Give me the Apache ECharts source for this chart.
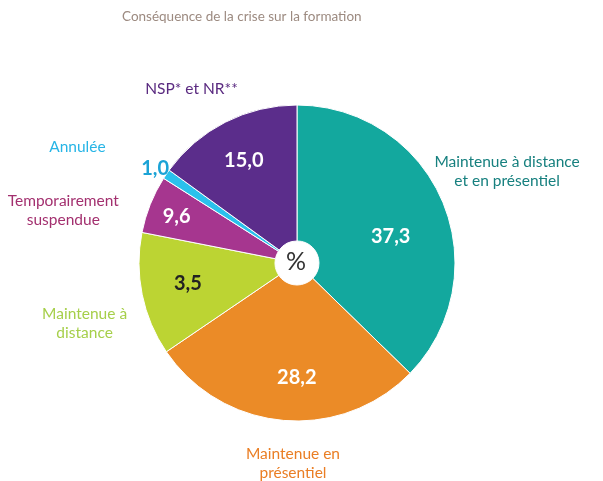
<!DOCTYPE html>
<html>
<head>
<meta charset="utf-8">
<script src="https://cdn.jsdelivr.net/npm/echarts@6/dist/echarts.min.js"></script>
<style>
html,body{margin:0;padding:0;background:#fff;}
#chart{width:603px;height:481px;}
</style>
</head>
<body>
<div id="chart"></div>
<script>
// Category names (clockwise from top)
const categories = [
  'Maintenue à distance\net en présentiel',
  'Maintenue en\nprésentiel',
  'Maintenue à\ndistance',
  'Temporairement\nsuspendue',
  'Annulée',
  'NSP* et NR**'
];
// Values printed on the slices (%)
const printedValues = ['37,3', '28,2', '3,5', '9,6', '1,0', '15,0'];
// Angular share of each slice as drawn in the picture (%)
const sliceShares = [37.3, 28.2, 12.6, 5.9, 1.0, 15.0];

const sliceColors = ['#13a89e', '#eb8b27', '#bcd433', '#a6368f', '#2ac1ec', '#5b2d8b'];
const nameColors  = ['#17807f', '#ea7e24', '#a6cf4a', '#a3306f', '#27b5e6', '#5a2a80'];
const valueColors = ['#ffffff', '#ffffff', '#222222', '#ffffff', '#1ba3d6', '#ffffff'];

const valueShift = [
  {dx: 8, dy: 10}, {dx: 8, dy: 22}, {dx: -18, dy: 2},
  {dx: -34, dy: -12}, {dx: -65, dy: -42}, {dx: -11, dy: -20}
];
const nameShift = [
  {dx: 0, dy: -3}, {dx: 16, dy: -27}, {dx: 11, dy: 15},
  {dx: -22, dy: 32}, {dx: -31, dy: 12}, {dx: -2, dy: 29}
];

const FONT = 'Lato, "Open Sans", sans-serif';

const valueData = categories.map((c, i) => ({
  name: c,
  value: sliceShares[i],
  itemStyle: {color: sliceColors[i]},
  label: {color: valueColors[i], formatter: printedValues[i]}
}));
const nameData = categories.map((c, i) => ({
  name: c,
  value: sliceShares[i],
  label: {color: nameColors[i]}
}));

const chart = echarts.init(document.getElementById('chart'), null, {renderer: 'canvas'});
chart.setOption({
  backgroundColor: '#ffffff',
  animation: false,
  title: {
    text: 'Conséquence de la crise sur la formation',
    left: 122, top: 10, padding: 0,
    textStyle: {fontFamily: FONT, fontSize: 13.5, fontWeight: 'normal', color: '#9c8a80'}
  },
  series: [
    {
      type: 'pie',
      center: [297, 263],
      radius: [160, 290],
      startAngle: 90,
      clockwise: true,
      silent: true,
      avoidLabelOverlap: false,
      itemStyle: {color: 'rgba(0,0,0,0)', borderWidth: 0},
      emphasis: {disabled: true},
      labelLine: {show: false},
      label: {
        show: true, position: 'inside',
        fontFamily: FONT, fontSize: 15.5, lineHeight: 19,
        formatter: '{b}', align: 'center'
      },
      labelLayout: p => nameShift[p.dataIndex],
      data: nameData,
      z: 1
    },
    {
      type: 'pie',
      center: [297, 263],
      radius: [22, 158],
      startAngle: 90,
      clockwise: true,
      silent: true,
      avoidLabelOverlap: false,
      itemStyle: {borderColor: '#ffffff', borderWidth: 1},
      emphasis: {disabled: true},
      labelLine: {show: false},
      label: {
        show: true, position: 'inside',
        fontFamily: FONT, fontSize: 20, fontWeight: 'bold'
      },
      labelLayout: p => valueShift[p.dataIndex],
      data: valueData,
      z: 2
    }
  ],
  graphic: [{
    type: 'text',
    left: 286, top: 249,
    style: {text: '%', fontFamily: FONT, fontSize: 25, fill: '#333333'},
    z: 10
  }]
});
</script>
</body>
</html>
